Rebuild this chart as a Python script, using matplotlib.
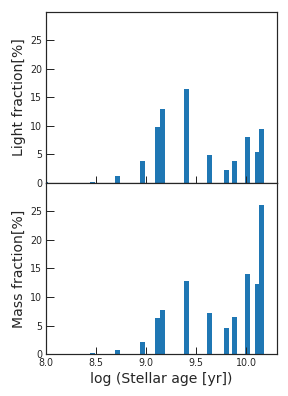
import matplotlib
matplotlib.use("Agg")
import matplotlib.pyplot as plt

# log ages of the bins (bar centres) and the fractions per bin
log_age = [7.99, 8.465, 8.715, 8.965, 9.115, 9.165, 9.405, 9.635, 9.805, 9.885, 10.015, 10.115, 10.155]
light_frac = [0.2, 0.25, 1.3, 3.9, 9.8, 13.0, 16.5, 4.95, 2.3, 3.9, 8.1, 5.45, 9.5]
mass_frac = [0.0, 0.18, 0.7, 2.1, 6.3, 7.7, 12.8, 7.2, 4.55, 6.5, 14.05, 12.3, 26.2]

xticks = [8.0, 8.5, 9.0, 9.5, 10.0]
yticks = [0, 5, 10, 15, 20, 25]

fig, (ax1, ax2) = plt.subplots(2, 1, figsize=(4, 5.5), dpi=72, sharex=True)
fig.subplots_adjust(left=0.16, right=0.962, top=0.97, bottom=0.106, hspace=0)

for ax, vals, lab in [(ax1, light_frac, "Light fraction[%]"), (ax2, mass_frac, "Mass fraction[%]")]:
    ax.bar(log_age, vals, width=0.05, color="#1f77b4")
    ax.set_ylim(0, 30)
    ax.set_yticks(yticks)
    ax.set_ylabel(lab, fontsize=14, color="#262626")
    ax.tick_params(direction="in", length=7.5, width=1.0, labelsize=9.5, pad=4,
                   color="#262626", labelcolor="#262626")
    for s in ax.spines.values():
        s.set_color("#262626")
        s.set_linewidth(1.2)

ax2.set_xlim(8.0, 10.31)
ax2.set_xticks(xticks)
ax2.set_xticklabels(["8.0", "8.5", "9.0", "9.5", "10.0"])
ax2.set_xlabel("log (Stellar age [yr])", fontsize=14, color="#262626")
ax1.tick_params(labelbottom=False)

fig.savefig("out.png", dpi=72)
